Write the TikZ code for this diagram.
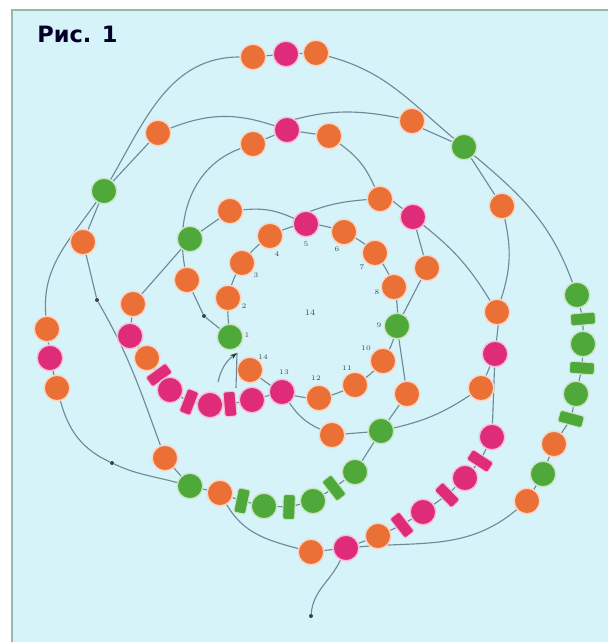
\documentclass[tikz,border=0pt]{standalone}
\usepackage{fontspec}
\newfontfamily\titlefont{DejaVu Sans}
\usetikzlibrary{arrows.meta}
\definecolor{bgcyan}{RGB}{213,243,249}
\definecolor{framegreen}{RGB}{150,186,170}
\definecolor{threadgray}{RGB}{110,138,152}
\definecolor{beadorange}{RGB}{234,112,54}
\definecolor{beadpink}{RGB}{222,44,122}
\definecolor{beadgreen}{RGB}{78,168,58}
\pgfdeclarelayer{paper}
\pgfdeclarelayer{threads}
\pgfsetlayers{paper,threads,main}

\begin{document}
\begin{tikzpicture}[
  x=0.025cm, y=-0.025cm,
  bead/.style={circle, minimum size=0.64cm, inner sep=0, line width=1pt},
  ob/.style={bead, fill=beadorange, draw=beadorange!30!white},
  pb/.style={bead, fill=beadpink, draw=beadpink!30!white},
  gb/.style={bead, fill=beadgreen, draw=beadgreen!30!white},
  bugle/.style={rectangle, rounded corners=1.2pt, minimum width=0.62cm,
                minimum height=0.3cm, inner sep=0, line width=0.7pt},
  pbug/.style={bugle, fill=beadpink, draw=beadpink!30!white},
  gbug/.style={bugle, fill=beadgreen, draw=beadgreen!30!white},
  thread/.style={draw=threadgray, line width=0.8pt},
  dot/.style={circle, fill=black!75, inner sep=0, minimum size=0.1cm},
  num/.style={font=\fontsize{5}{6}\selectfont, text=black!70, inner sep=0}
]
  \useasboundingbox (0,0) rectangle (608,642);
  \begin{pgfonlayer}{paper}
    \fill[white] (0,0) rectangle (608,642);
    \fill[bgcyan] (12,10) rectangle (608,642);
    \draw[framegreen, line width=1.2pt] (12,642) -- (12,10) -- (608,10);
  \end{pgfonlayer}

  \node[anchor=base west, inner sep=0, text=black!85!blue,
        font=\titlefont\bfseries\fontsize{16}{18}\selectfont] (title) at (37,43) {Рис. 1};

  % inner ring of 14 beads
  \node[gb] (i1) at (230,337) {};
  \node[ob] (i2) at (228,298) {};
  \node[ob] (i3) at (242,263) {};
  \node[ob] (i4) at (270,236) {};
  \node[pb] (i5) at (306,224) {};
  \node[ob] (i6) at (344,232) {};
  \node[ob] (i7) at (375,253) {};
  \node[ob] (i8) at (394,287) {};
  \node[gb] (i9) at (397,326) {};
  \node[ob] (i10) at (383,361) {};
  \node[ob] (i11) at (355,385) {};
  \node[ob] (i12) at (319,398) {};
  \node[pb] (i13) at (282,392) {};
  \node[ob] (i14) at (250,370) {};
  \foreach \n/\x/\y in {1/247/335, 2/244/306, 3/256/275, 4/277/254, 5/306/244,
                        6/337/249, 7/362/267, 8/377/292, 9/379/325, 10/366/348,
                        11/347/368, 12/316/378, 13/284/372, 14/263/357}
    \node[num] (n\n) at (\x,\y) {\n};
  \node[num, font=\fontsize{6}{7}\selectfont] (mid) at (310,313) {14};

  % second round
  \node[ob] (a1) at (187,280) {};
  \node[gb] (a2) at (190,239) {};
  \node[ob] (a3) at (230,211) {};
  \node[ob] (a4) at (380,199) {};
  \node[pb] (a5) at (413,217) {};
  \node[ob] (a6) at (427,268) {};
  \node[ob] (a7) at (407,394) {};
  \node[gb] (a8) at (381,431) {};
  \node[ob] (a9) at (332,435) {};
  \node[ob] (a10) at (133,304) {};

  % third round
  \node[ob] (b1) at (253,144) {};
  \node[pb] (b2) at (287,130) {};
  \node[ob] (b3) at (329,136) {};
  \node[ob] (b4) at (412,121) {};
  \node[gb] (b5) at (464,147) {};
  \node[ob] (b6) at (502,206) {};
  \node[ob] (b7) at (497,312) {};
  \node[pb] (b8) at (495,354) {};
  \node[ob] (b9) at (481,388) {};
  \node[ob] (b10) at (158,133) {};
  \node[gb] (b11) at (104,191) {};
  \node[ob] (b12) at (83,242) {};

  % outer beads
  \node[ob] (t1) at (253,57) {};
  \node[pb] (t2) at (286,54) {};
  \node[ob] (t3) at (316,53) {};
  \node[ob] (c1) at (47,329) {};
  \node[pb] (c2) at (50,358) {};
  \node[ob] (c3) at (57,388) {};

  % pink chain, left
  \node[pb] (p1) at (130,336) {};
  \node[ob] (p2) at (147,358) {};
  \node[pbug, rotate=36] (pbug1) at (159,375) {};
  \node[pb] (p3) at (170,390) {};
  \node[pbug, rotate=69] (pbug2) at (189,402) {};
  \node[pb] (p4) at (210,405) {};
  \node[pbug, rotate=95] (pbug3) at (230,404) {};
  \node[pb] (p5) at (252,400) {};

  % green chain, bottom
  \node[gb] (g1) at (355,472) {};
  \node[gbug, rotate=-52] (gbug1) at (334,488) {};
  \node[gb] (g2) at (313,501) {};
  \node[gbug, rotate=88] (gbug2) at (289,507) {};
  \node[gb] (g3) at (264,506) {};
  \node[gbug, rotate=78] (gbug3) at (242,501) {};
  \node[ob] (g4) at (220,493) {};
  \node[gb] (g5) at (190,486) {};
  \node[ob] (g6) at (165,458) {};

  % pink chain, bottom right
  \node[pb] (q1) at (492,437) {};
  \node[pbug, rotate=-33] (qbug1) at (480,461) {};
  \node[pb] (q2) at (465,478) {};
  \node[pbug, rotate=-46] (qbug2) at (447,495) {};
  \node[pb] (q3) at (423,512) {};
  \node[pbug, rotate=-52] (qbug3) at (402,525) {};
  \node[ob] (q4) at (378,536) {};
  \node[pb] (q5) at (346,548) {};
  \node[ob] (q6) at (311,552) {};

  % green chain, right
  \node[gb] (r1) at (577,295) {};
  \node[gbug, rotate=5] (rbug1) at (583,319) {};
  \node[gb] (r2) at (583,344) {};
  \node[gbug, rotate=-4] (rbug2) at (582,368) {};
  \node[gb] (r3) at (576,394) {};
  \node[gbug, rotate=-15] (rbug3) at (571,419) {};
  \node[ob] (r4) at (554,444) {};
  \node[gb] (r5) at (543,474) {};
  \node[ob] (r6) at (527,501) {};

  % direction marks and thread ends
  \node[dot] (d1) at (97,300) {};
  \node[dot] (d2) at (204,316) {};
  \node[dot] (d3) at (112,463) {};
  \node[dot] (e) at (311,616) {};
  \coordinate (tip) at (237,353);
  \coordinate (s1) at (218,382);
  \coordinate (s2) at (236,388);

  \begin{pgfonlayer}{threads}
    \draw[thread] plot[smooth, tension=0.5] coordinates
      {(i1) (i2) (i3) (i4) (i5) (i6) (i7) (i8) (i9) (i10) (i11) (i12) (i13) (i14)};
    \draw[thread] (a1) -- (d2) -- (i1);
    \draw[thread] (a1) to[out=100,in=200] (b1) -- (b2) -- (b3) to[bend left=15] (a4)
      -- (a5) -- (a6) -- (i9) -- (a7) -- (a8) -- (a9) to[bend left=15] (i13);
    \draw[thread] (b10) to[bend left=20] (b2) to[bend left=15] (b4) -- (b5) -- (b6)
      to[bend left=15] (b7) -- (b8) -- (b9) to[bend left=10] (a8);
    \draw[thread] (a2) -- (a3) to[bend left=15] (i5) to[bend left=10] (a4);
    \draw[thread] (a5) to[bend left=10] (b7);
    \draw[thread] (a2) -- (a10) -- (p1);
    \draw[thread] (b8) -- (q1);
    \draw[thread] (a8) -- (g1) -- (gbug1) -- (g2) -- (gbug2) -- (g3) -- (gbug3)
      -- (g4) -- (g5) -- (g6);
    \draw[thread] (b11) -- (b10);
    \draw[thread] (b11) -- (b12) -- (d1) to[out=-60,in=110] (g6);
    \draw[thread] (g5) to[out=165,in=-25] (d3) to[out=155,in=-75] (c3) -- (c2) -- (c1)
      to[out=95,in=235] (b11) to[out=60,in=180] (t1) -- (t2) -- (t3)
      to[out=-15,in=140] (b5) to[out=-40,in=110] (r1) -- (rbug1) -- (r2) -- (rbug2)
      -- (r3) -- (rbug3) -- (r4) -- (r5) -- (r6) to[out=-140,in=5] (q5);
    \draw[thread] (q1) -- (qbug1) -- (q2) -- (qbug2) -- (q3) -- (qbug3) -- (q4)
      -- (q5) -- (q6) to[out=165,in=-60] (g4);
    \draw[thread] (q5) to[out=-115,in=85] (e);
    \draw[thread] (p1) -- (p2) -- (pbug1) -- (p3) -- (pbug2) -- (p4) -- (pbug3)
      -- (p5) -- (i13);
  \end{pgfonlayer}

  \draw[thread] (s2) -- (tip);
  \draw[thread, -{Stealth[length=5pt, width=3.5pt, color=black!80]}] (s1) to[bend left=20] (tip);
\end{tikzpicture}
\end{document}
